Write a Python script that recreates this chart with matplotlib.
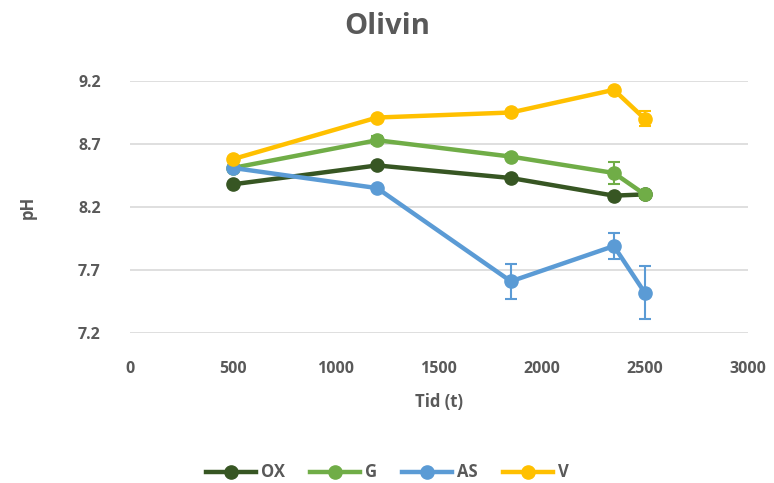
import matplotlib.pyplot as plt
from matplotlib.lines import Line2D
from matplotlib.ticker import MultipleLocator

plt.rcParams['font.family'] = ['Open Sans', 'DejaVu Sans']
plt.rcParams['font.weight'] = 'bold'

tid = [500, 1200, 1850, 2350, 2500]

ox = [8.38, 8.53, 8.43, 8.29, 8.30]
ox_err = [0.0, 0.0, 0.0, 0.0, 0.0]
g = [8.51, 8.73, 8.60, 8.47, 8.30]
g_err = [0.0, 0.03, 0.02, 0.09, 0.03]
as_ = [8.51, 8.35, 7.61, 7.89, 7.52]
as_err = [0.0, 0.0, 0.14, 0.10, 0.21]
v = [8.58, 8.91, 8.95, 9.13, 8.90]
v_err = [0.0, 0.0, 0.0, 0.0, 0.06]

series = [
    {"label": "OX", "y": ox, "err": ox_err, "color": "#375623"},
    {"label": "G", "y": g, "err": g_err, "color": "#70AD47"},
    {"label": "AS", "y": as_, "err": as_err, "color": "#5B9BD5"},
    {"label": "V", "y": v, "err": v_err, "color": "#FFC000"},
]

text_color = "#595959"

fig = plt.figure(figsize=(7.74, 4.83), dpi=100)
ax = fig.add_axes([0.168, 0.3106, 0.798, 0.5217])

handles = []
for s in series:
    ax.errorbar(tid, s['y'], yerr=s['err'], color=s['color'], ecolor=s['color'],
                linewidth=3.2, marker='o', markersize=9.5, elinewidth=1.5,
                capsize=4.5, capthick=1.5)
    handles.append(Line2D([], [], color=s['color'], linewidth=3.2, marker='o',
                          markersize=9.5, label=s['label']))

ax.set_xlim(0, 3000)
ax.set_ylim(7.2, 9.2)
ax.xaxis.set_major_locator(MultipleLocator(500))
ax.set_yticks([7.2, 7.7, 8.2, 8.7, 9.2])
ax.yaxis.grid(True, color="#D9D9D9", linewidth=1.2)
ax.set_axisbelow(True)
for sp in ax.spines.values():
    sp.set_visible(False)
ax.tick_params(length=0, labelsize=11.5, colors=text_color)
ax.tick_params(axis='x', pad=20)
ax.tick_params(axis='y', pad=21)

fig.text(0.5, 0.945, "Olivin", fontsize=21, color=text_color, fontweight='bold',
         ha='center', va='center')
ax.set_xlabel("Tid (t)", fontsize=12, color=text_color, fontweight='bold', labelpad=12)
ax.set_ylabel("pH", fontsize=12, color=text_color, fontweight='bold', labelpad=30)

leg = fig.legend(handles=handles, loc='center', bbox_to_anchor=(0.5, 0.022), ncol=4,
                 frameon=False, fontsize=12, handlelength=3.0, columnspacing=1.5,
                 handletextpad=0.3)
for t in leg.get_texts():
    t.set_color(text_color)

plt.savefig("out.png", dpi=100)
